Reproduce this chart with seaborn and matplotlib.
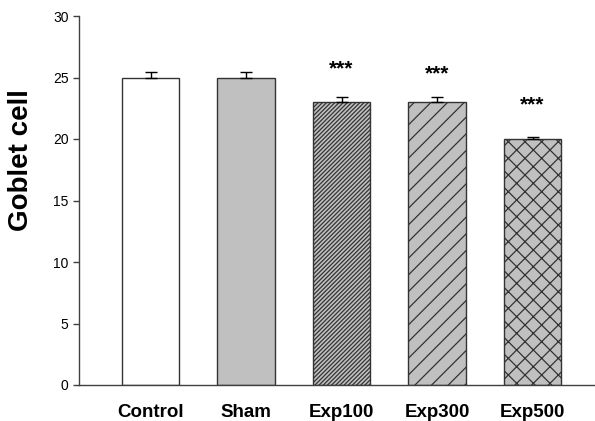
import numpy as np
import pandas as pd
import matplotlib
matplotlib.use('Agg')
import matplotlib.pyplot as plt
import seaborn as sns

# values
groups = ['Control', 'Sham', 'Exp100', 'Exp300', 'Exp500']
means = [25.0, 25.0, 23.0, 23.0, 20.0]
errors = [0.45, 0.45, 0.45, 0.45, 0.2]
stars = ['', '', '***', '***', '***']
star_y = [0, 0, 25.7, 25.3, 22.8]

fills = ['white', '#c0c0c0', '#c0c0c0', '#c0c0c0', '#c0c0c0']
hatches = ['', '', '////////', '//', 'xx']

sns.set_style('ticks')
plt.rcParams['font.family'] = ['Liberation Sans', 'DejaVu Sans']
plt.rcParams['hatch.linewidth'] = 0.9
plt.rcParams['hatch.color'] = 'black'
plt.rcParams['text.color'] = 'black'
plt.rcParams['axes.labelcolor'] = 'black'
plt.rcParams['xtick.labelcolor'] = 'black'
plt.rcParams['ytick.labelcolor'] = 'black'

df = pd.DataFrame({'group': groups, 'mean': means})

fig = plt.figure(figsize=(5.95, 4.21), dpi=100)
ax = fig.add_axes([79 / 595, 36 / 421, 516 / 595, 369 / 421])

sns.barplot(data=df, x='group', y='mean', hue='group', palette=fills,
            width=0.6, errorbar=None, legend=False, ax=ax,
            edgecolor='#333333', linewidth=1.0)

for bar, h in zip(ax.patches, hatches):
    bar.set_hatch(h)

xs = np.arange(len(groups))
ax.errorbar(xs, means, yerr=[np.zeros(len(errors)), errors], fmt='none',
            ecolor='black', elinewidth=1.0, capsize=4.5, capthick=1.0)

for x, s, y in zip(xs, stars, star_y):
    if s:
        ax.text(x, y, s, ha='center', va='center', fontsize=15,
                fontweight='bold')

ax.set_ylim(0, 30)
ax.set_xlim(-0.749, 4.654)
ax.set_yticks([0, 5, 10, 15, 20, 25, 30])
ax.tick_params(axis='y', labelsize=10, length=4, width=1, color='#404040')
ax.tick_params(axis='x', length=0, pad=14, labelsize=13.5)
for lab in ax.get_xticklabels():
    lab.set_fontweight('bold')

ax.set_xlabel('')
ax.set_ylabel('Goblet cell', fontsize=20, fontweight='bold')
ax.yaxis.set_label_coords(-0.088, 0.61)

sns.despine(ax=ax)
for sp in ['left', 'bottom']:
    ax.spines[sp].set_color('#404040')
    ax.spines[sp].set_linewidth(1.0)

fig.savefig('out.png', dpi=100)
